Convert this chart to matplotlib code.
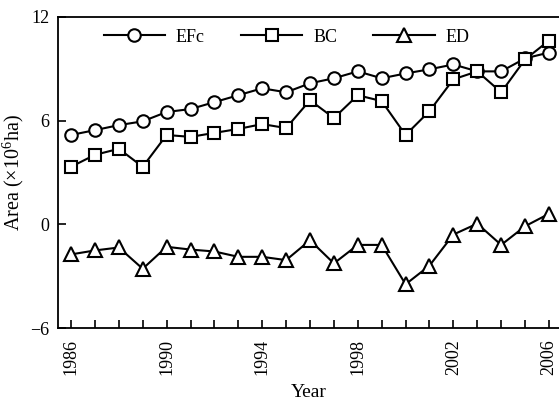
import matplotlib
matplotlib.use("Agg")
import matplotlib.pyplot as plt

plt.rcParams['font.family'] = ['Liberation Serif', 'DejaVu Serif']
plt.rcParams['mathtext.fontset'] = 'custom'
plt.rcParams['mathtext.rm'] = 'Liberation Serif'

years = list(range(1986, 2007))
efc = [5.17, 5.45, 5.74, 5.96, 6.50, 6.67, 7.07, 7.47, 7.87, 7.64, 8.16,
       8.45, 8.85, 8.45, 8.73, 8.97, 9.25, 8.85, 8.85, 9.60, 9.94]
bc = [3.33, 4.02, 4.37, 3.33, 5.17, 5.06, 5.29, 5.52, 5.80, 5.57, 7.18,
      6.15, 7.47, 7.13, 5.17, 6.55, 8.39, 8.85, 7.64, 9.54, 10.63]
ed = [-1.74, -1.51, -1.34, -2.57, -1.30, -1.46, -1.57, -1.88, -1.88, -2.07, -0.92,
      -2.26, -1.19, -1.19, -3.47, -2.39, -0.59, 0.04, -1.19, -0.11, 0.61]
xlabels = ['1986', '1990', '1994', '1998', '2002', '2006']

fig = plt.figure(figsize=(5.59, 4.03), dpi=100)
ax = fig.add_axes([0.1038, 0.186, 0.8962, 0.772])

style = dict(color='black', lw=1.5, mfc='white', mec='black', mew=1.5)
ax.plot(years, efc, marker='o', ms=9, label='EFc', **style)
ax.plot(years, bc, marker='s', ms=9, label='BC', **style)
ax.plot(years, ed, marker='^', ms=10, label='ED', **style)

ax.set_xlim(1985.456, 2006.42)
ax.set_ylim(-6, 12)
ax.set_yticks([-6, 0, 6, 12])
ax.set_yticklabels(['\u22126', '0', '6', '12'])
ax.set_xticks(years)
ax.set_xticklabels([str(y) if str(y) in xlabels else '' for y in years], rotation=90)
ax.tick_params(direction='in', length=6, width=1.2, labelsize=13, pad=6)
ax.tick_params(axis='x', pad=8)

ax.spines['right'].set_visible(False)
for s in ['left', 'bottom', 'top']:
    ax.spines[s].set_linewidth(1.3)

ax.set_xlabel('Year', fontsize=14, labelpad=6)
ax.set_ylabel('Area (\u00d710$^6$ha)', fontsize=14.5, labelpad=3)

ax.legend(loc='upper center', bbox_to_anchor=(0.456, 1.015), ncol=3, frameon=False,
          fontsize=13, handlelength=3.4, columnspacing=2.0, handletextpad=0.6)

fig.savefig('out.png', dpi=100)
